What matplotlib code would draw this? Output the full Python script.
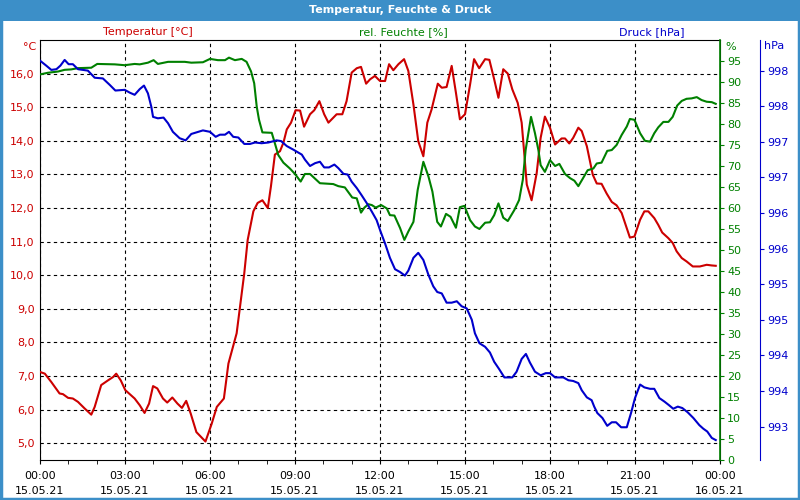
import matplotlib
matplotlib.use("Agg")
import matplotlib.pyplot as plt
from matplotlib.patches import Rectangle

# Stunden seit 15.05.21 00:00
t_temp = [0, 0.17, 0.4, 0.69, 0.81, 0.99, 1.16, 1.34, 1.58, 1.81, 1.93, 2.16, 2.4, 2.58, 2.69,
          2.85, 3.01, 3.34, 3.52, 3.69, 3.85, 3.99, 4.14, 4.34, 4.49, 4.67, 4.85, 5.01, 5.16,
          5.32, 5.52, 5.69, 5.84, 6.06, 6.24, 6.49, 6.65, 6.94, 7.06, 7.21, 7.33, 7.53, 7.68,
          7.85, 8.04, 8.15, 8.29, 8.47, 8.59, 8.71, 8.86, 9.02, 9.18, 9.32, 9.53, 9.68, 9.86,
          10.03, 10.18, 10.47, 10.67, 10.82, 11.0, 11.18, 11.33, 11.51, 11.65, 11.82, 12.0,
          12.18, 12.32, 12.47, 12.65, 12.85, 13.0, 13.18, 13.35, 13.53, 13.67, 13.82, 14.04,
          14.18, 14.35, 14.53, 14.68, 14.82, 15.0, 15.18, 15.32, 15.5, 15.71, 15.86, 16.03,
          16.18, 16.35, 16.51, 16.67, 16.86, 17.0, 17.08, 17.18, 17.35, 17.53, 17.67, 17.82,
          18.0, 18.18, 18.41, 18.53, 18.68, 18.82, 19.0, 19.12, 19.3, 19.41, 19.51, 19.65,
          19.82, 20.0, 20.18, 20.35, 20.53, 20.71, 20.82, 20.98, 21.18, 21.33, 21.47, 21.68,
          21.82, 21.96, 22.18, 22.33, 22.47, 22.65, 22.82, 23.04, 23.29, 23.53, 23.71, 23.85]
temperatur = [7.12, 7.07, 6.82, 6.48, 6.46, 6.35, 6.33, 6.23, 6.03, 5.85, 6.08, 6.73, 6.87, 6.97, 7.07,
              6.87, 6.58, 6.33, 6.13, 5.90, 6.18, 6.70, 6.63, 6.33, 6.21, 6.36, 6.18, 6.05, 6.26,
              5.88, 5.33, 5.18, 5.05, 5.58, 6.08, 6.33, 7.37, 8.27, 9.06, 10.06, 11.05, 11.9, 12.15,
              12.23, 12.0, 12.64, 13.59, 13.69, 13.94, 14.34, 14.54, 14.91, 14.9, 14.42, 14.79, 14.91, 15.18,
              14.79, 14.54, 14.79, 14.79, 15.18, 16.03, 16.16, 16.2, 15.7, 15.83, 15.93, 15.78,
              15.78, 16.28, 16.1, 16.28, 16.43, 16.08, 15.08, 13.99, 13.54, 14.54, 14.93, 15.7,
              15.58, 15.6, 16.23, 15.43, 14.64, 14.79, 15.68, 16.43, 16.16, 16.43, 16.41, 15.83,
              15.28, 16.13, 16.0, 15.53, 15.13, 14.54, 13.74, 12.7, 12.23, 13.04, 14.09, 14.72,
              14.39, 13.89, 14.07, 14.07, 13.92, 14.09, 14.39, 14.29, 13.84, 13.39, 12.99, 12.73,
              12.72, 12.43, 12.18, 12.08, 11.85, 11.40, 11.12, 11.15, 11.65, 11.90, 11.90, 11.70,
              11.50, 11.27, 11.10, 10.96, 10.71, 10.51, 10.41, 10.26, 10.26, 10.31, 10.29, 10.28]

t_feuchte = [0, 0.28, 0.64, 0.87, 1.1, 1.34, 1.81, 2.02, 2.64, 2.99, 3.34, 3.52, 3.81, 4.01, 4.16,
             4.52, 5.11, 5.34, 5.75, 6.0, 6.28, 6.53, 6.67, 6.88, 7.12, 7.29, 7.45, 7.56, 7.65,
             7.73, 7.85, 8.18, 8.29, 8.41, 8.59, 8.82, 9.0, 9.2, 9.35, 9.53, 9.88, 10.35, 10.53,
             10.76, 11.02, 11.18, 11.33, 11.45, 11.59, 11.71, 11.85, 12.04, 12.24, 12.35, 12.51,
             12.71, 12.86, 13.0, 13.18, 13.33, 13.53, 13.71, 13.85, 14.02, 14.15, 14.33, 14.49,
             14.68, 14.82, 14.98, 15.18, 15.35, 15.51, 15.71, 15.88, 16.03, 16.18, 16.35, 16.51,
             16.74, 16.91, 17.04, 17.14, 17.33, 17.47, 17.59, 17.67, 17.82, 18.0, 18.18, 18.33,
             18.53, 18.71, 18.86, 19.0, 19.14, 19.33, 19.53, 19.65, 19.82, 20.02, 20.18, 20.35,
             20.53, 20.71, 20.82, 20.98, 21.18, 21.35, 21.53, 21.68, 21.82, 22.0, 22.18, 22.33,
             22.49, 22.65, 22.82, 23.0, 23.18, 23.35, 23.53, 23.71, 23.85]
feuchte = [91.8, 92.2, 92.5, 92.9, 93.0, 93.3, 93.4, 94.3, 94.2, 94.0, 94.3, 94.2, 94.6, 95.2, 94.3,
           94.8, 94.8, 94.6, 94.7, 95.5, 95.2, 95.2, 95.8, 95.2, 95.5, 94.8, 92.5, 89.7, 84.1,
           81.0, 78.0, 77.9, 75.4, 72.6, 70.8, 69.4, 68.1, 66.3, 68.1, 68.1, 65.9, 65.7, 65.2,
           64.9, 62.5, 62.3, 58.9, 60.1, 60.9, 60.7, 60.1, 60.7, 59.9, 58.3, 58.2,
           55.2, 52.4, 54.4, 56.7, 64.3, 71.0, 67.5, 63.9, 56.7, 55.6, 58.6, 57.9,
           55.3, 60.2, 60.5, 57.1, 55.6, 55.0, 56.5, 56.6, 58.3, 61.1, 57.7, 56.9,
           59.5, 61.9, 66.7, 73.8, 81.7, 77.8, 73.8, 70.2, 68.6, 71.4, 70.0, 70.5,
           68.1, 67.1, 66.5, 65.2, 66.8, 69.0, 69.4, 70.6, 70.8, 73.6, 73.8, 75.0,
           77.4, 79.4, 81.2, 81.0, 77.8, 76.0, 75.8, 77.8, 79.2, 80.5, 80.5, 81.7,
           84.4, 85.5, 86.0, 86.1, 86.4, 85.7, 85.3, 85.2, 84.8]

t_druck = [0, 0.22, 0.4, 0.58, 0.72, 0.87, 1.01, 1.16, 1.34, 1.69, 1.93, 2.22, 2.46, 2.66, 2.99,
           3.17, 3.34, 3.52, 3.67, 3.81, 3.93, 3.99, 4.16, 4.36, 4.52, 4.69, 4.93, 5.14, 5.34,
           5.75, 6.0, 6.2, 6.35, 6.53, 6.67, 6.82, 7.0, 7.21, 7.41, 7.59, 7.82, 8.06, 8.35,
           8.51, 8.71, 8.94, 9.24, 9.35, 9.53, 9.71, 9.88, 10.03, 10.2, 10.39, 10.53, 10.71,
           10.86, 11.0, 11.18, 11.35, 11.53, 11.71, 11.88, 12.02, 12.18, 12.35, 12.53, 12.71,
           12.88, 13.0, 13.18, 13.35, 13.53, 13.71, 13.88, 14.02, 14.18, 14.35, 14.53, 14.71,
           14.88, 15.06, 15.24, 15.35, 15.51, 15.71, 15.88, 16.03, 16.2, 16.39, 16.67, 16.82,
           17.0, 17.15, 17.29, 17.47, 17.67, 17.85, 18.0, 18.18, 18.47, 18.65, 18.82, 19.0,
           19.12, 19.3, 19.47, 19.56, 19.67, 19.85, 20.02, 20.18, 20.33, 20.51, 20.71, 20.86,
           21.0, 21.18, 21.33, 21.53, 21.68, 21.86, 22.04, 22.2, 22.35, 22.51, 22.67, 22.86,
           23.06, 23.27, 23.41, 23.55, 23.71, 23.85]
druck = [998.54, 998.47, 998.41, 998.42, 998.47, 998.55, 998.49, 998.49, 998.42, 998.40, 998.30, 998.29,
         998.20, 998.12, 998.13, 998.09, 998.06, 998.14, 998.19, 998.08, 997.89, 997.75, 997.73, 997.74,
         997.66, 997.54, 997.45, 997.42, 997.51, 997.56, 997.54, 997.47, 997.50, 997.50, 997.54, 997.47,
         997.46, 997.37, 997.37, 997.39, 997.38, 997.39, 997.42, 997.41, 997.34, 997.29, 997.22, 997.15,
         997.06, 997.10, 997.12, 997.04, 997.04, 997.08, 997.03, 996.95, 996.94, 996.84, 996.75, 996.65,
         996.54, 996.42, 996.30, 996.14, 995.97, 995.77, 995.61, 995.57, 995.52, 995.59, 995.77, 995.84,
         995.74, 995.53, 995.37, 995.29, 995.27, 995.14, 995.14, 995.16, 995.09, 995.06, 994.90, 994.71,
         994.57, 994.52, 994.44, 994.31, 994.21, 994.09, 994.09, 994.17, 994.35, 994.42, 994.30, 994.17,
         994.12, 994.15, 994.15, 994.09, 994.09, 994.05, 994.04, 994.01, 993.91, 993.81, 993.77, 993.68,
         993.59, 993.52, 993.41, 993.46, 993.46, 993.39, 993.39, 993.59, 993.80, 993.99, 993.95, 993.93,
         993.93, 993.80, 993.75, 993.70, 993.65, 993.68, 993.66, 993.60, 993.52, 993.42, 993.37, 993.33,
         993.24, 993.21]

x_ticks = [0, 3, 6, 9, 12, 15, 18, 21, 24]
x_labels = ["00:00\n15.05.21", "03:00\n15.05.21", "06:00\n15.05.21", "09:00\n15.05.21",
            "12:00\n15.05.21", "15:00\n15.05.21", "18:00\n15.05.21", "21:00\n15.05.21",
            "00:00\n16.05.21"]
temp_ticks = [5, 6, 7, 8, 9, 10, 11, 12, 13, 14, 15, 16]
feuchte_ticks = list(range(0, 100, 5))
druck_ticks = [998.4, 997.9, 997.4, 996.9, 996.4, 995.9, 995.4, 994.9, 994.4, 993.9, 993.4]

ROT = "#cc0000"
GRUEN = "#008000"
BLAU = "#0000cc"
fs = 8

fig = plt.figure(figsize=(8, 5), dpi=100)
fig.patch.set_facecolor("white")

ax = fig.add_axes([0.05, 0.08, 0.85, 0.84])
ax2 = ax.twinx()
ax3 = ax.twinx()

ax.plot(t_temp, temperatur, color=ROT, lw=1.5, zorder=3)
ax2.plot(t_feuchte, feuchte, color=GRUEN, lw=1.5)
ax3.plot(t_druck, druck, color=BLAU, lw=1.5)

ax.set_xlim(0, 24)
ax.set_ylim(4.5, 17.0)
ax2.set_ylim(0, 100)
ax3.set_ylim(992.93, 998.83)

# Gitter
ax.set_xticks(x_ticks)
ax.set_xticklabels(x_labels, fontsize=fs, linespacing=1.55)
ax.set_xticks(range(25), minor=True)
ax.tick_params(axis="x", which="both", direction="out", length=3, pad=5)
ax.set_yticks(temp_ticks)
ax.set_yticklabels([f"{v:.1f}".replace(".", ",") for v in temp_ticks], color=ROT, fontsize=fs)
ax.tick_params(axis="y", length=0, pad=4)
ax.grid(True, which="major", color="black", ls=(0, (3, 3)), lw=0.8)

ax2.set_yticks(feuchte_ticks)
ax2.set_yticklabels([str(v) for v in feuchte_ticks], color=GRUEN, fontsize=fs)
ax2.tick_params(axis="y", colors=GRUEN, length=3, pad=2)
ax2.spines["right"].set_color(GRUEN)
ax2.spines["right"].set_linewidth(1.2)

ax3.spines["right"].set_position(("axes", 720 / 680))
ax3.spines["right"].set_color(BLAU)
ax3.set_yticks(druck_ticks)
ax3.set_yticklabels([f"{v:.0f}" for v in druck_ticks], color=BLAU, fontsize=fs)
ax3.tick_params(axis="y", colors=BLAU, length=3, pad=2)

for a in (ax2, ax3):
    a.spines["top"].set_visible(False)
    a.spines["left"].set_visible(False)
    a.spines["bottom"].set_visible(False)

# Einheiten und Reihentitel
fig.text(36 / 800, 1 - 47 / 500, "°C", color=ROT, fontsize=fs, ha="right", va="center")
fig.text(725 / 800, 1 - 47 / 500, "%", color=GRUEN, fontsize=fs, ha="left", va="center")
fig.text(764 / 800, 1 - 46 / 500, "hPa", color=BLAU, fontsize=fs, ha="left", va="center")
fig.text(148 / 800, 1 - 32 / 500, "Temperatur [°C]", color=ROT, fontsize=fs, ha="center", va="center")
fig.text(403 / 800, 1 - 32 / 500, "rel. Feuchte [%]", color=GRUEN, fontsize=fs, ha="center", va="center")
fig.text(652 / 800, 1 - 32 / 500, "Druck [hPa]", color=BLAU, fontsize=fs, ha="center", va="center")

# Titelleiste und Rahmen
fig.patches.append(Rectangle((0, 1 - 21 / 500), 1, 21 / 500, transform=fig.transFigure,
                             facecolor="#3c8fc8", edgecolor="none", zorder=0))
fig.patches.append(Rectangle((0.001, 0.002), 0.998, 0.996, transform=fig.transFigure,
                             facecolor="none", edgecolor="#3c8fc8", lw=2.5, zorder=5))
fig.text(0.5, 1 - 10 / 500, "Temperatur, Feuchte & Druck", color="white", fontsize=fs,
         fontweight="bold", ha="center", va="center")

fig.savefig("out.png", dpi=100)
